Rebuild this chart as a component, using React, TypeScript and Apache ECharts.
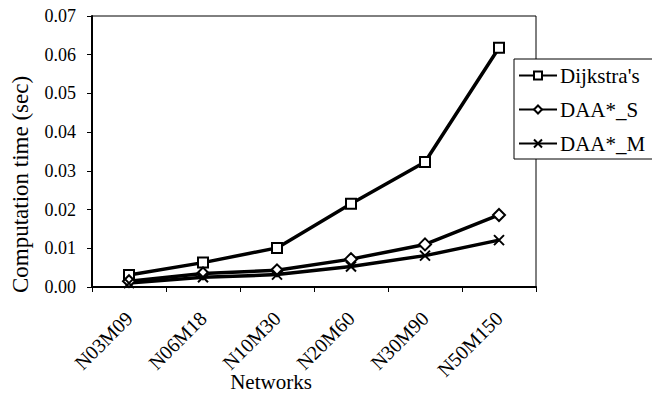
import React, { useEffect, useRef } from "react";
import * as echarts from "echarts";

const categories = ["N03M09", "N06M18", "N10M30", "N20M60", "N30M90", "N50M150"];
const dijkstra = [0.0031, 0.0063, 0.0101, 0.0215, 0.0323, 0.0618];
const daaS = [0.0015, 0.0035, 0.0043, 0.0072, 0.011, 0.0186];
const daaM = [0.001, 0.0025, 0.0032, 0.0053, 0.0081, 0.0121];
const seriesNames = ["Dijkstra's", "DAA*_S", "DAA*_M"];

const FONT = "Liberation Serif, Times New Roman, serif";
const X_SYMBOL = "path://M0,0L10,10M10,0L0,10";

export default function App() {
  const ref = useRef<HTMLDivElement>(null);
  useEffect(() => {
    if (!ref.current) return;
    const chart = echarts.init(ref.current, undefined, { renderer: "svg" });
    const lineCommon = {
      type: "line" as const,
      lineStyle: { color: "#000", width: 3.5 },
      itemStyle: { color: "#000", borderColor: "#000", borderWidth: 2 },
      symbolSize: 10,
      z: 3,
    };
    chart.setOption({
      animation: false,
      backgroundColor: "#fff",
      textStyle: { fontFamily: FONT, color: "#000" },
      grid: {
        left: 92,
        right: 116,
        top: 16,
        bottom: 108,
        containLabel: false,
        outerBoundsMode: "none",
        show: true,
        borderColor: "#000",
        borderWidth: 1,
        backgroundColor: "transparent",
      },
      legend: {
        orient: "vertical",
        left: 514,
        top: 59,
        padding: [6, 14, 5, 4],
        itemGap: 13,
        itemWidth: 38,
        itemHeight: 10,
        backgroundColor: "#fff",
        borderColor: "#000",
        borderWidth: 1,
        borderRadius: 0,
        textStyle: { fontFamily: FONT, fontSize: 21, color: "#000", padding: [0, 0, 0, -2] },
        data: seriesNames,
      },
      xAxis: {
        type: "category",
        data: categories,
        boundaryGap: true,
        name: "Networks",
        nameLocation: "middle",
        nameGap: 84,
        nameMoveOverlap: false,
        nameTextStyle: { fontFamily: FONT, fontSize: 21, color: "#000", padding: [0, 86, 0, 0] },
        axisLine: { lineStyle: { color: "#000", width: 2 } },
        axisTick: { show: true, length: 5, lineStyle: { color: "#000", width: 1 } },
        axisLabel: {
          rotate: 45,
          margin: 28,
          fontFamily: FONT,
          fontSize: 20,
          color: "#000",
        },
        splitLine: { show: false },
      },
      yAxis: {
        type: "value",
        min: 0,
        max: 0.07,
        interval: 0.01,
        name: "Computation time (sec)",
        nameLocation: "middle",
        nameGap: 60,
        nameMoveOverlap: false,
        nameTextStyle: { fontFamily: FONT, fontSize: 23, color: "#000", padding: [0, 66, 0, 0] },
        axisLine: { show: true, lineStyle: { color: "#000", width: 2 } },
        axisTick: { show: true, length: 5, lineStyle: { color: "#000", width: 1 } },
        axisLabel: {
          margin: 16,
          fontFamily: FONT,
          fontSize: 18,
          color: "#000",
          formatter: (v: number) => v.toFixed(2),
        },
        splitLine: { show: false },
      },
      series: [
        { ...lineCommon, name: seriesNames[0], data: dijkstra, symbol: "emptyRect", symbolSize: 10 },
        { ...lineCommon, name: seriesNames[1], data: daaS, symbol: "emptyDiamond", symbolSize: 12 },
        { ...lineCommon, name: seriesNames[2], data: daaM, symbol: X_SYMBOL, symbolSize: 10 },
      ],
    });
    return () => chart.dispose();
  }, []);
  return <div ref={ref} style={{ width: 652, height: 395, position: "absolute", left: 0, top: 0 }} />;
}
